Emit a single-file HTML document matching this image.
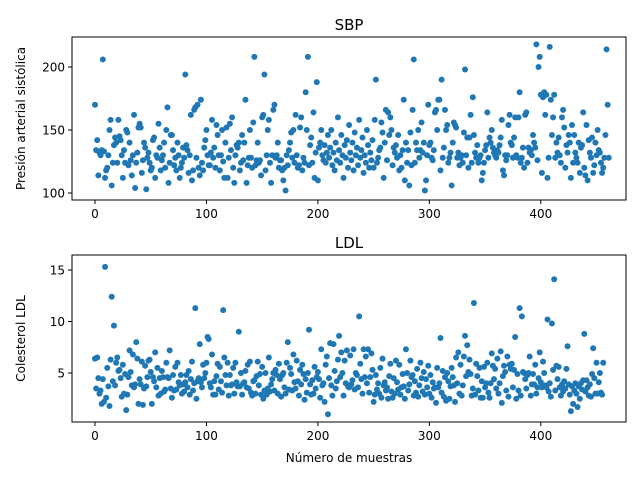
<!DOCTYPE html>
<html><head><meta charset="utf-8">
<style>
body{margin:0;background:#fff;}
svg{display:block;font-family:"DejaVu Sans","Liberation Sans",sans-serif;}
</style></head>
<body>
<svg id="chart" width="640" height="480"></svg>
<script>
const sbpValues=[170,134,142,114,132,130,134,206,133,112,118,120,130,150,158,106,124,138,144,140,124,158,145,142,130,112,134,124,150,148,
122,140,126,114,130,162,104,124,132,152,155,152,116,126,140,136,103,128,132,124,118,120,142,144,112,130,128,155,136,118,
126,130,140,120,150,168,108,124,146,146,134,122,128,118,140,130,112,120,124,136,128,194,138,134,116,130,162,110,118,166,
168,128,170,120,114,174,124,118,136,142,150,130,122,122,132,158,128,136,120,154,146,130,118,130,150,125,112,140,152,112,
128,155,134,160,120,108,130,138,136,140,118,124,146,126,140,174,108,122,128,150,128,120,156,208,122,126,140,124,126,114,
160,162,194,118,130,150,158,124,108,130,166,170,128,130,140,120,126,126,118,110,120,102,130,122,134,140,148,128,150,124,
162,130,120,122,152,160,118,128,124,180,150,208,122,138,144,124,164,112,132,188,110,136,140,150,130,126,138,124,132,146,
128,136,150,122,132,118,140,126,160,134,124,146,130,112,138,128,142,120,154,132,
126,140,118,148,130,136,122,158,128,134,144,116,130,124,150,138,120,132,126,142,
120,158,190,124,128,134,136,156,148,112,140,166,126,164,146,160,150,122,136,132,138,128,146,118,130,120,134,174,110,140,
124,134,106,148,122,166,206,124,140,134,150,128,134,156,132,140,102,110,130,170,138,140,128,126,134,164,166,150,174,174,
118,190,128,136,166,150,154,124,128,132,106,140,156,154,152,128,132,122,128,130,124,148,198,130,144,120,144,162,124,176,
146,132,128,138,124,128,130,110,116,124,134,138,164,128,144,140,150,136,132,130,128,134,132,138,144,158,118,114,130,126,
130,154,162,140,138,128,144,160,130,128,160,180,124,128,136,120,162,164,124,136,132,134,130,146,140,136,218,126,200,208,
178,116,176,180,162,178,112,128,216,174,146,160,178,128,140,132,144,130,124,160,166,152,120,138,132,146,140,112,154,124,
146,132,128,124,140,116,136,138,164,120,114,154,110,142,132,128,144,116,122,140,130,150,134,132,124,116,120,128,146,214,
170,128];
const ldlValues=[6.4,3.5,6.5,4.5,3.0,3.3,2.0,4.4,2.2,15.3,2.6,5.5,3.7,1.8,6.3,12.4,4.2,9.6,3.8,6.0,6.5,5.2,5.3,4.5,2.7,
5.8,3.0,4.9,1.4,2.9,4.6,7.2,5.1,3.8,6.8,3.6,3.9,8.0,6.4,2.0,4.4,3.9,6.1,1.9,3.5,5.7,3.7,4.6,6.2,6.3,
5.1,2.0,4.6,4.2,7.0,3.6,5.5,2.8,4.5,3.0,5.2,4.6,3.2,3.4,6.0,4.6,4.5,7.2,3.5,2.6,4.8,3.3,5.6,3.4,6.0,
4.1,3.8,4.8,3.0,3.9,3.2,4.1,4.8,3.6,5.2,2.9,4.4,6.1,3.3,4.0,11.3,2.5,4.2,4.5,7.8,4.1,3.6,5.8,4.5,5.0,6.0,8.5,8.3,4.0,3.6,6.8,2.9,4.2,
2.9,4.7,5.9,3.4,5.6,4.2,3.1,11.1,6.5,4.8,3.8,6.0,2.8,4.8,3.8,3.9,5.5,3.0,6.0,4.1,3.7,9.0,3.7,5.0,2.9,4.0,4.1,5.2,3.6,
5.8,3.5,6.1,3.1,2.8,4.2,4.3,3.0,4.7,6.1,3.8,4.9,2.9,5.6,2.5,3.3,5.0,2.9,3.5,6.5,3.2,3.9,4.4,5.0,3.3,
5.3,4.8,3.0,5.9,4.4,2.7,4.8,5.0,3.6,3.0,6.0,8.0,3.4,5.5,4.9,3.3,6.8,4.1,3.5,6.2,4.2,2.8,5.3,3.9,5.8,
4.9,2.4,4.4,3.1,5.0,9.2,3.9,2.9,4.3,3.0,5.6,3.5,4.6,5.1,4.4,2.6,7.3,3.8,4.0,2.2,5.8,6.6,1.0,4.5,7.9,
3.8,2.8,7.8,5.2,3.5,4.2,6.3,8.6,4.6,7.0,5.0,2.8,6.2,4.0,7.2,3.7,3.6,6.7,3.9,4.3,7.3,3.4,5.0,4.8,3.6,
10.5,5.9,4.4,3.0,7.3,4.6,6.6,4.0,7.3,3.1,4.6,6.9,5.3,2.2,2.9,4.8,3.4,4.0,3.0,5.5,2.6,6.4,3.8,4.1,3.3,
3.6,2.5,4.7,5.9,3.2,2.6,4.5,3.0,6.2,4.1,3.4,5.8,2.9,3.6,4.9,3.7,2.5,7.3,5.0,3.3,3.9,6.2,4.6,4.8,2.8,
4.2,3.1,5.4,2.7,3.8,6.0,4.5,3.2,5.1,2.9,4.4,3.6,5.7,3.0,4.8,2.6,4.1,3.5,
3.6,2.1,5.5,3.6,4.0,8.4,3.1,5.2,2.7,4.6,2.3,5.0,4.2,2.5,3.7,5.5,4.6,3.8,2.2,6.5,4.0,7.0,3.0,5.8,2.8,
3.8,6.6,8.6,4.7,7.7,5.1,6.3,4.9,2.8,3.5,11.8,2.9,5.9,4.7,3.3,5.5,2.6,4.2,2.6,5.6,3.6,4.0,6.0,3.1,2.6,
4.0,6.9,5.7,4.4,5.4,3.5,6.4,3.0,4.0,7.1,2.1,4.7,5.7,5.1,3.3,6.6,2.7,5.8,5.4,5.9,3.6,5.3,8.5,2.5,4.9,
3.3,11.3,2.8,10.5,5.1,5.0,4.4,3.5,4.8,5.0,6.6,2.8,3.9,4.9,3.9,5.8,3.0,3.6,4.5,7.0,4.1,3.6,6.1,5.0,3.8,
3.6,10.2,3.2,4.0,2.7,9.8,5.3,14.1,3.3,5.7,4.4,5.6,3.6,2.8,3.9,3.2,4.2,3.5,5.4,7.6,3.9,2.9,1.3,3.7,2.0,
3.3,4.0,3.0,1.7,3.7,2.5,4.0,3.4,4.3,8.8,3.2,4.3,3.6,2.8,3.9,2.7,4.9,7.4,4.5,3.0,6.0,3.0,4.1,5.0,3.1,2.9,6.0];
const xTicks=[0,100,200,300,400];
const sbpTicks=[100,150,200];
const ldlTicks=[5,10,15];

const svg=document.getElementById('chart');
const NS='http://www.w3.org/2000/svg';
function mk(tag,attrs,parent){const e=document.createElementNS(NS,tag);for(const k in attrs)e.setAttribute(k,attrs[k]);(parent||svg).appendChild(e);return e;}
const L=72,R=626;
const xScale=v=>95+v*1.1145;

function panel(name,top,bottom,vals,yfn,ticks,title,ylabel,showXLabel){
  const g=mk('g',{});
  
  
  vals.forEach((v,i)=>{
    const c=mk('circle',{cx:xScale(i),cy:yfn(v),r:3,fill:'#1f77b4'},g);
    
    
  });
  const fr=mk('rect',{x:L,y:top,width:R-L,height:bottom-top,fill:'none',stroke:'#000','stroke-width':1},g);
  
  
  xTicks.forEach(t=>{
    const x=xScale(t);
    mk('line',{x1:x,x2:x,y1:bottom,y2:bottom+4,stroke:'#000'},g);
    const tx=mk('text',{x:x,y:bottom+18,'font-size':12,'text-anchor':'middle'},g);
    tx.textContent=t;
    
    
  });
  ticks.forEach(t=>{
    const y=yfn(t);
    mk('line',{x1:L-4,x2:L,y1:y,y2:y,stroke:'#000'},g);
    const tx=mk('text',{x:L-7,y:y+4.5,'font-size':12,'text-anchor':'end'},g);
    tx.textContent=t;
    
    
  });
  const tt=mk('text',{x:(L+R)/2,y:top-7,'font-size':15,'text-anchor':'middle'},g);
  tt.textContent=title;
  
  
  const cy=(top+bottom)/2;
  const yl=mk('text',{x:25,y:cy,'font-size':12,'text-anchor':'middle',transform:`rotate(-90 25 ${cy})`},g);
  yl.textContent=ylabel;
  
  
  if(showXLabel){
    const xl=mk('text',{x:(L+R)/2,y:bottom+40,'font-size':12,'text-anchor':'middle'},g);
    xl.textContent='Número de muestras';
    
    
  }
}
panel('sbp',37,200,sbpValues,v=>193-(v-100)*1.26,sbpTicks,'SBP','Presión arterial sistólica',false);
panel('ldl',255,422,ldlValues,v=>373-(v-5)*10.3,ldlTicks,'LDL','Colesterol LDL',true);
</script>
</body></html>
